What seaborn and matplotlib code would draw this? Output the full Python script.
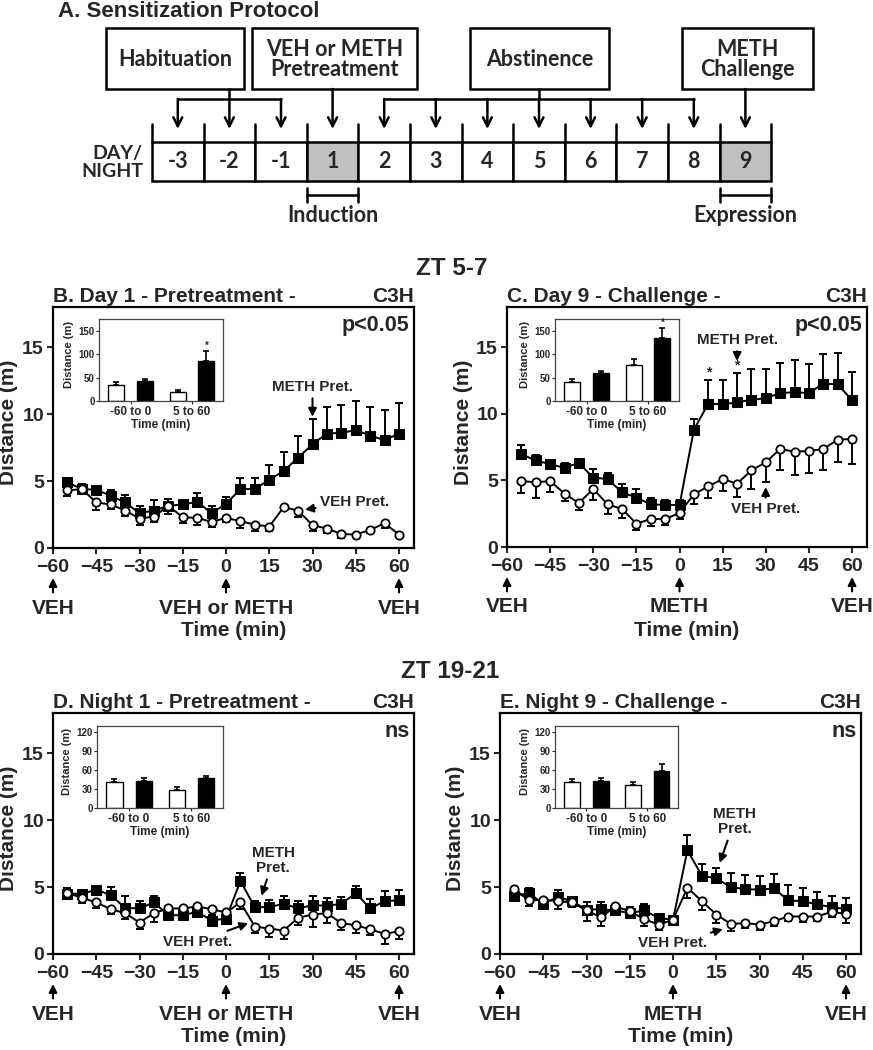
import numpy as np
import pandas as pd
import matplotlib
matplotlib.use("Agg")
import matplotlib.pyplot as plt
from matplotlib.patches import Rectangle
import seaborn as sns

# ---------------- data ----------------
times = [-55, -50, -45, -40, -35, -30, -25, -20, -15, -10, -5, 0,
         5, 10, 15, 20, 25, 30, 35, 40, 45, 50, 55, 60]
xticks = [-60, -45, -30, -15, 0, 15, 30, 45, 60]
yticks = [0, 5, 10, 15]

B_meth = [4.9, 4.4, 4.35, 3.9, 3.4, 2.6, 2.8, 3.15, 3.25, 3.45, 2.6, 3.3,
          4.4, 4.4, 5.1, 5.75, 6.75, 7.75, 8.55, 8.6, 8.8, 8.4, 8.05, 8.55]
B_meth_err = [0.3, 0.35, 0.15, 0.45, 0.55, 0.55, 0.75, 0.5, 0.2, 0.65, 0.55, 0.5,
              0.8, 0.85, 1.1, 1.45, 1.65, 1.85, 1.95, 2.05, 2.15, 2.1, 2.25, 2.25]
B_veh = [4.3, 4.4, 3.4, 3.25, 2.8, 2.2, 2.35, 3.15, 2.3, 2.25, 1.95, 2.25,
         2.0, 1.75, 1.6, 3.05, 2.8, 1.7, 1.45, 1.05, 1.0, 1.35, 1.85, 1.0]
B_veh_err = [0.45, 0.3, 0.55, 0.3, 0.4, 0.5, 0.4, 0.6, 0.45, 0.5, 0.4, 0.3,
             0.5, 0.5, 0.3, 0.15, 0.5, 0.4, 0.3, 0.3, 0.2, 0.25, 0.35, 0.15]

C_meth = [6.95, 6.5, 6.2, 5.95, 6.3, 5.2, 5.1, 4.1, 3.7, 3.2, 3.15, 3.15,
          8.8, 10.75, 10.7, 10.85, 11.05, 11.15, 11.55, 11.6, 11.55, 12.25, 12.2, 11.0]
C_meth_err = [0.7, 0.4, 0.3, 0.35, 0.25, 0.65, 0.45, 0.6, 0.65, 0.5, 0.35, 0.35,
              0.8, 1.8, 1.85, 2.2, 2.3, 2.2, 2.25, 2.4, 2.2, 2.2, 2.35, 2.15]
C_veh = [4.95, 4.85, 4.95, 4.0, 3.3, 4.35, 3.2, 2.85, 1.75, 2.1, 2.1, 2.55,
         3.95, 4.55, 5.1, 4.75, 5.75, 6.35, 7.35, 7.15, 7.2, 7.35, 8.05, 8.1]
C_veh_err = [0.9, 1.15, 0.8, 0.55, 0.55, 0.8, 0.75, 0.7, 0.5, 0.5, 0.45, 0.45,
             0.7, 0.9, 0.9, 1.0, 1.4, 1.45, 1.6, 1.75, 1.65, 1.6, 1.65, 1.85]

D_meth = [4.5, 4.5, 4.8, 4.4, 3.45, 3.4, 3.85, 2.9, 2.9, 3.15, 2.5, 2.65,
          5.45, 3.5, 3.5, 3.75, 3.4, 3.65, 3.6, 3.75, 4.55, 3.4, 3.95, 4.0]
D_meth_err = [0.4, 0.3, 0.3, 0.6, 0.85, 0.55, 0.45, 0.35, 0.35, 0.35, 0.4, 0.3,
              0.6, 0.45, 0.5, 0.6, 0.55, 0.7, 0.55, 0.5, 0.5, 0.7, 0.75, 0.75]
D_veh = [4.55, 4.2, 3.85, 3.35, 3.05, 2.35, 3.05, 3.4, 3.4, 3.55, 3.35, 3.1,
         3.85, 2.05, 1.9, 1.75, 2.7, 2.95, 3.05, 2.3, 2.15, 1.85, 1.5, 1.7]
D_veh_err = [0.2, 0.4, 0.4, 0.35, 0.45, 0.5, 0.65, 0.1, 0.1, 0.1, 0.1, 0.1,
             0.5, 0.5, 0.6, 0.6, 0.5, 0.95, 0.75, 0.5, 0.55, 0.45, 0.75, 0.6]

E_meth = [4.35, 4.55, 3.75, 4.25, 3.95, 3.3, 3.35, 3.25, 3.05, 3.25, 2.7, 2.55,
          7.75, 5.85, 5.65, 5.0, 4.85, 4.8, 4.9, 4.0, 3.95, 3.7, 3.5, 3.35]
E_meth_err = [0.4, 0.35, 0.25, 0.5, 0.3, 0.6, 0.55, 0.35, 0.45, 0.45, 0.25, 0.2,
              1.15, 0.9, 0.8, 1.05, 1.05, 1.05, 1.1, 1.15, 1.0, 0.95, 0.85, 0.8]
E_veh = [4.85, 4.0, 4.05, 3.95, 3.85, 3.25, 2.75, 3.55, 3.2, 2.6, 2.2, 2.55,
         4.95, 3.95, 2.95, 2.25, 2.3, 2.2, 2.45, 2.8, 2.8, 2.8, 3.15, 3.0]
E_veh_err = [0.15, 0.45, 0.1, 0.6, 0.35, 0.75, 0.65, 0.1, 0.25, 0.5, 0.4, 0.1,
             0.8, 0.7, 0.6, 0.5, 0.35, 0.4, 0.35, 0.35, 0.4, 0.35, 0.35, 0.7]

periods = ["-60 to 0", "5 to 60"]
B_in_veh, B_in_veh_err = [35, 20], [4.5, 4.5]
B_in_meth, B_in_meth_err = [42, 86], [5, 20]
C_in_veh, C_in_veh_err = [41, 76], [7, 14]
C_in_meth, C_in_meth_err = [59, 134], [5, 22]
D_in_veh, D_in_veh_err = [42, 29], [4, 4]
D_in_meth, D_in_meth_err = [43.5, 47], [4, 4.5]
E_in_veh, E_in_veh_err = [41, 36], [5, 5]
E_in_meth, E_in_meth_err = [43, 58], [4, 11]

day_labels = ["-3", "-2", "-1", "1", "2", "3", "4", "5", "6", "7", "8", "9"]
shaded_days = ["1", "9"]
box_labels = ["Habituation", "VEH or METH\nPretreatment", "Abstinence", "METH\nChallenge"]
box_targets = [["-3", "-2", "-1"], ["1"], ["2", "3", "4", "5", "6", "7", "8"], ["9"]]
box_stems = ["-2", "1", "5", "9"]

# ---------------- style ----------------
sns.set_style("ticks")
plt.rcParams["font.family"] = ["Liberation Sans", "DejaVu Sans"]
plt.rcParams["font.weight"] = "bold"
plt.rcParams["axes.labelweight"] = "bold"

W, H = 873, 1050
fig = plt.figure(figsize=(W / 100, H / 100), dpi=100)

def px_axes(x0, y0, x1, y1):
    return fig.add_axes([x0 / W, 1 - y1 / H, (x1 - x0) / W, (y1 - y0) / H])

ov = fig.add_axes([0, 0, 1, 1])
ov.set_xlim(0, W)
ov.set_ylim(H, 0)
ov.axis("off")

# ---------------- panel A ----------------
afont = dict(family=["Lato", "DejaVu Sans"], fontweight="bold", fontsize=15.5)
ov.text(58, 17, "A. Sensitization Protocol", fontsize=16, fontweight="bold",
        ha="left", va="baseline")
cx0, cw, ytop, ybot, ytick = 152, 51.6, 142, 181, 124
centers = {}
for i, d in enumerate(day_labels):
    x = cx0 + i * cw
    centers[d] = x + cw / 2
    ov.add_patch(Rectangle((x, ytop), cw, ybot - ytop,
                           facecolor="#c0c0c0" if d in shaded_days else "white",
                           edgecolor="black", lw=1.8, zorder=2))
    ov.text(x + cw / 2, (ytop + ybot) / 2, d, ha="center", va="center", zorder=3, **afont)
for i in range(len(day_labels) + 1):
    x = cx0 + i * cw
    ov.plot([x, x], [ytick, ytop], color="black", lw=1.8, zorder=3)
ov.text(143, (ytop + ybot) / 2 + 1, "DAY/\nNIGHT", ha="right", va="center",
        linespacing=1.05, **dict(afont, fontsize=14))

box_x = [(106, 244), (252, 417), (470, 609), (682, 813)]
by0, by1, ybar, ytip = 28, 89, 99, 129
arw = dict(arrowstyle="->", lw=1.8, color="black", mutation_scale=16,
           shrinkA=0, shrinkB=0)
for (bx0, bx1), lbl, tg, stem in zip(box_x, box_labels, box_targets, box_stems):
    ov.add_patch(Rectangle((bx0, by0), bx1 - bx0, by1 - by0, facecolor="white",
                           edgecolor="black", lw=1.8))
    ov.text((bx0 + bx1) / 2, (by0 + by1) / 2 + 1, lbl, ha="center", va="center",
            linespacing=0.95, **afont)
    if len(tg) == 1:
        ov.annotate("", xy=(centers[tg[0]], ytip), xytext=(centers[tg[0]], by1),
                    arrowprops=arw)
    else:
        ov.plot([centers[stem], centers[stem]], [by1, ybar], color="black", lw=1.8)
        ov.plot([centers[tg[0]], centers[tg[-1]]], [ybar, ybar], color="black", lw=1.8)
        for d in tg:
            ov.annotate("", xy=(centers[d], ytip), xytext=(centers[d], ybar),
                        arrowprops=arw)

for d, lbl in [("1", "Induction"), ("9", "Expression")]:
    xl, xr = centers[d] - cw / 2, centers[d] + cw / 2
    ov.plot([xl, xr], [195, 195], color="black", lw=1.8)
    ov.plot([xl, xl], [188, 202], color="black", lw=1.8)
    ov.plot([xr, xr], [188, 202], color="black", lw=1.8)
    ov.text(centers[d], 215, lbl, ha="center", va="center", **afont)

ov.text(452, 275, "ZT 5-7", fontsize=17.5, fontweight="bold", ha="center", va="baseline")
ov.text(450, 678, "ZT 19-21", fontsize=17.5, fontweight="bold", ha="center", va="baseline")

# ---------------- panels B-E ----------------
panels = [
    dict(box=(53, 307, 414, 548), inset=(99, 319, 223, 401),
         title="B. Day 1 - Pretreatment -", p="p<0.05",
         meth=B_meth, meth_err=B_meth_err, veh=B_veh, veh_err=B_veh_err,
         iv=B_in_veh, ive=B_in_veh_err, im=B_in_meth, ime=B_in_meth_err,
         ilim=175, iticks=[0, 50, 100, 150], istar=True,
         under=[(-60, "VEH"), (0, "VEH or METH"), (60, "VEH")],
         ann=[("METH Pret.", (30, 12.05), (30, 9.8)),
              ("VEH Pret.", (44.7, 3.45), (27.4, 2.87))],
         stars=[]),
    dict(box=(507, 307, 867, 547), inset=(555, 319, 679, 401),
         title="C. Day 9 - Challenge -", p="p<0.05",
         meth=C_meth, meth_err=C_meth_err, veh=C_veh, veh_err=C_veh_err,
         iv=C_in_veh, ive=C_in_veh_err, im=C_in_meth, ime=C_in_meth_err,
         ilim=175, iticks=[0, 50, 100, 150], istar=True,
         under=[(-60, "VEH"), (0, "METH"), (60, "VEH")],
         ann=[("METH Pret.", (20.1, 15.55), (20, 13.95)),
              ("VEH Pret.", (29.9, 2.83), (30, 4.5))],
         stars=[10, 20]),
    dict(box=(53, 713, 414, 954), inset=(97, 726, 223, 808),
         title="D. Night 1 - Pretreatment -", p="ns",
         meth=D_meth, meth_err=D_meth_err, veh=D_veh, veh_err=D_veh_err,
         iv=D_in_veh, ive=D_in_veh_err, im=D_in_meth, ime=D_in_meth_err,
         ilim=130, iticks=[0, 30, 60, 90, 120], istar=False,
         under=[(-60, "VEH"), (0, "VEH or METH"), (60, "VEH")],
         ann=[("METH\nPret.", (16.4, 7.0), (12.3, 4.35)),
              ("VEH Pret.", (-9.7, 0.93), (7.7, 2.3))],
         stars=[]),
    dict(box=(500, 713, 861, 954), inset=(555, 726, 678, 808),
         title="E. Night 9 - Challenge -", p="ns",
         meth=E_meth, meth_err=E_meth_err, veh=E_veh, veh_err=E_veh_err,
         iv=E_in_veh, ive=E_in_veh_err, im=E_in_meth, ime=E_in_meth_err,
         ilim=130, iticks=[0, 30, 60, 90, 120], istar=False,
         under=[(-60, "VEH"), (0, "METH"), (60, "VEH")],
         ann=[("METH\nPret.", (21.3, 9.9), (16.2, 6.8)),
              ("VEH Pret.", (0.0, 0.8), (17.3, 1.85))],
         stars=[]),
]

harrow = dict(arrowstyle="-|>", lw=1.5, color="black", mutation_scale=12,
              shrinkA=1, shrinkB=0)

for P in panels:
    x0, y0, x1, y1 = P["box"]
    ax = px_axes(x0, y0, x1, y1)
    hpx = y1 - y0
    zeros = [0] * len(times)
    ax.errorbar(times, P["meth"], yerr=[zeros, P["meth_err"]], fmt="none",
                ecolor="black", elinewidth=1.4, capsize=3, capthick=1.4, zorder=2)
    ax.errorbar(times, P["veh"], yerr=[P["veh_err"], zeros], fmt="none",
                ecolor="black", elinewidth=1.4, capsize=3, capthick=1.4, zorder=2)
    sns.lineplot(x=times, y=P["meth"], ax=ax, color="black", lw=1.4, marker="s",
                 markersize=6.5, markerfacecolor="black", markeredgecolor="black",
                 errorbar=None, zorder=3)
    sns.lineplot(x=times, y=P["veh"], ax=ax, color="black", lw=1.4, marker="o",
                 markersize=6, markerfacecolor="white", markeredgecolor="black",
                 markeredgewidth=1.3, errorbar=None, zorder=4)
    ax.set_xlim(-60, 65.2)
    ax.set_ylim(0, 18)
    ax.set_xticks(xticks)
    ax.set_yticks(yticks)
    ax.tick_params(axis="both", labelsize=14, width=1.5, length=4.5, direction="out")
    ax.tick_params(axis="y", pad=2)
    for lab in ax.get_xticklabels() + ax.get_yticklabels():
        lab.set_fontweight("bold")
    for s in ax.spines.values():
        s.set_visible(True)
        s.set_linewidth(1.6)
        s.set_color("black")
    ax.set_xlabel("Time (min)", fontsize=15, fontweight="bold")
    ax.set_ylabel("Distance (m)", fontsize=15, fontweight="bold")
    ax.xaxis.label.set_va("center")
    ax.yaxis.label.set_va("center")
    ax.xaxis.set_label_coords(0.5, -83 / hpx)
    ax.yaxis.set_label_coords(-44 / (x1 - x0), 0.52)

    ax.text(0, 1 + 5 / hpx, P["title"], transform=ax.transAxes, ha="left",
            va="baseline", fontsize=15, fontweight="bold")
    ax.text(1, 1 + 5 / hpx, "C3H", transform=ax.transAxes, ha="right",
            va="baseline", fontsize=15, fontweight="bold")
    ax.text(0.988, 0.925, P["p"], transform=ax.transAxes, ha="right", va="center",
            fontsize=15.5, fontweight="bold")

    tr = ax.get_xaxis_transform()
    for xv, lbl in P["under"]:
        ax.annotate(lbl, xy=(xv, -30 / hpx), xycoords=tr,
                    xytext=(xv, -60 / hpx), textcoords=tr, ha="center", va="center",
                    fontsize=15, fontweight="bold", annotation_clip=False,
                    arrowprops=dict(harrow, shrinkA=2))
    for lbl, xyt, xy in P["ann"]:
        ax.annotate(lbl, xy=xy, xytext=xyt, ha="center", va="center",
                    fontsize=11, fontweight="bold", linespacing=1.1,
                    arrowprops=harrow)
    for xs in P["stars"]:
        i = times.index(xs)
        ax.text(xs, P["meth"][i] + P["meth_err"][i] + 0.05, "*", ha="center",
                va="bottom", fontsize=10, fontweight="bold")

    # inset bar chart
    ix0, iy0, ix1, iy1 = P["inset"]
    axi = px_axes(ix0, iy0, ix1, iy1)
    df = pd.DataFrame({
        "period": periods + periods,
        "pret": ["VEH"] * 2 + ["METH"] * 2,
        "dist": P["iv"] + P["im"],
    })
    sns.barplot(data=df, x="period", y="dist", hue="pret", hue_order=["VEH", "METH"],
                order=periods, palette={"VEH": "white", "METH": "black"},
                edgecolor="black", linewidth=1.0, width=0.94, gap=0.45,
                errorbar=None, legend=False, ax=axi)
    for cont, errs in zip(axi.containers, [P["ive"], P["ime"]]):
        for bar, e in zip(cont, errs):
            xc = bar.get_x() + bar.get_width() / 2
            axi.errorbar([xc], [bar.get_height()], yerr=[[0], [e]], fmt="none",
                         ecolor="black", elinewidth=1.2, capsize=2.5, capthick=1.2,
                         zorder=0.5)
    if P["istar"]:
        bar = axi.containers[1][1]
        axi.text(bar.get_x() + bar.get_width() / 2,
                 bar.get_height() + P["ime"][1] + 0.5, "*", ha="center",
                 va="bottom", fontsize=7, fontweight="bold")
    axi.set_xlim(-0.515, 1.505)
    axi.set_ylim(0, P["ilim"])
    axi.set_yticks(P["iticks"])
    axi.tick_params(axis="y", labelsize=7, length=2, width=0.8, pad=1)
    axi.tick_params(axis="x", labelsize=8.5, length=2, width=0.8, pad=1.5)
    for lab in axi.get_xticklabels() + axi.get_yticklabels():
        lab.set_fontweight("bold")
    for s in axi.spines.values():
        s.set_visible(True)
        s.set_linewidth(0.9)
        s.set_color("#444444")
    axi.set_xlabel("Time (min)", fontsize=8.5, fontweight="bold")
    axi.set_ylabel("Distance (m)", fontsize=8, fontweight="bold")
    axi.xaxis.label.set_va("center")
    axi.yaxis.label.set_va("center")
    axi.xaxis.set_label_coords(0.5, -24 / (iy1 - iy0))
    axi.yaxis.set_label_coords(-30 / (ix1 - ix0), 0.57)

fig.savefig("out.png", dpi=100)
